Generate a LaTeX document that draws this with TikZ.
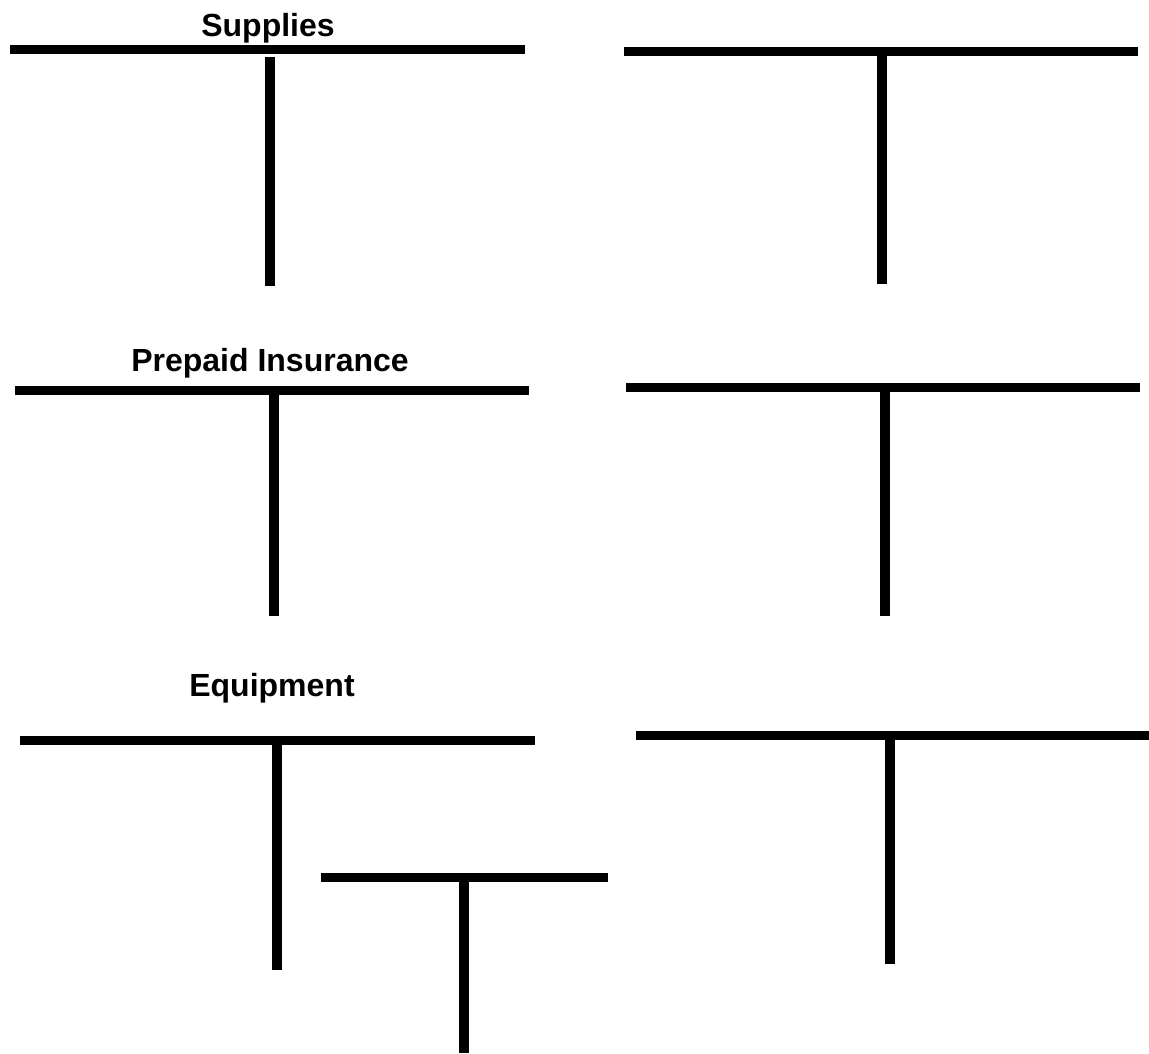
\documentclass[tikz,border=0pt]{standalone}
\usepackage{fontspec}
\setmainfont{Liberation Sans}
\usepackage{tikz}
\usetikzlibrary{positioning}

\begin{document}
\begin{tikzpicture}[x=1pt,y=-1pt,
    tbar/.style={line width=9pt},
    tstem/.style={line width=9.5pt},
    title/.style={anchor=base,font=\fontsize{32}{38}\selectfont\bfseries,inner sep=0pt}]
    \useasboundingbox (0,0) rectangle (1149,1053);
    % Supplies
    \node[title] (supplies) at (268,36) {Supplies};
    \draw[tbar] (10,49) -- (525,49);
    \draw[tstem] (270,57) -- (270,286);
    \draw[tbar] (624,51) -- (1138,51);
    \draw[tstem] (882,56) -- (882,284);
    % Prepaid Insurance
    \node[title] (prepaid) at (270,371) {Prepaid Insurance};
    \draw[tbar] (15,390) -- (529,390);
    \draw[tstem] (274,395) -- (274,616);
    \draw[tbar] (626,387) -- (1140,387);
    \draw[tstem] (885,392) -- (885,616);
    % Equipment
    \node[title] (equipment) at (272,696) {Equipment};
    \draw[tbar] (20,740.5) -- (535,740.5);
    \draw[tstem] (277,745) -- (277,970);
    \draw[tbar] (321,877.5) -- (608,877.5);
    \draw[tstem] (464,882) -- (464,1053);
    \draw[tbar] (636,735.5) -- (1149,735.5);
    \draw[tstem] (890,740) -- (890,964);
\end{tikzpicture}
\end{document}
